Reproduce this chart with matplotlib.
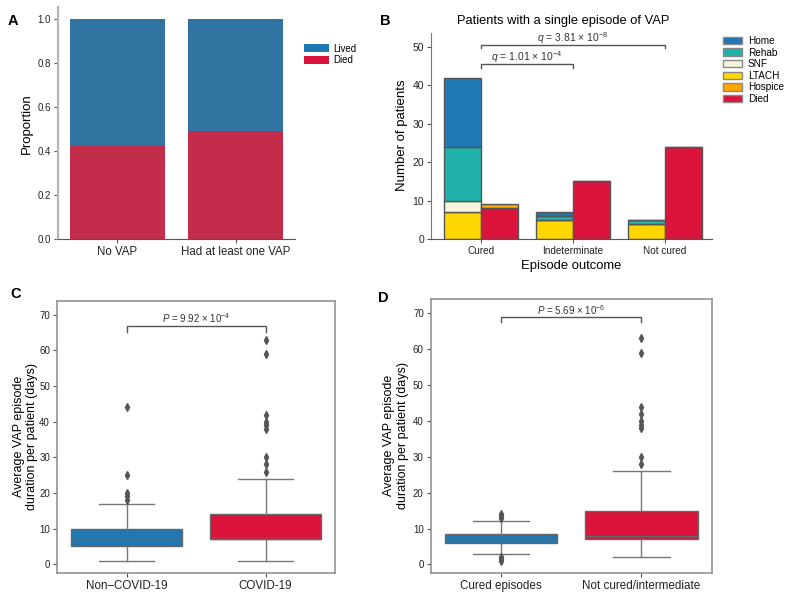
import colorsys
import matplotlib
matplotlib.use("Agg")
import matplotlib.pyplot as plt
from matplotlib.patches import Patch
from matplotlib.colors import to_rgb

plt.rcParams['font.family'] = ['Liberation Sans', 'DejaVu Sans']
plt.rcParams['mathtext.fontset'] = 'custom'
plt.rcParams['mathtext.rm'] = 'Liberation Sans'
plt.rcParams['mathtext.it'] = 'Liberation Sans:italic'

# ---- data ----
# A: proportion died per group
a_groups = ["No VAP", "Had at least one VAP"]
a_died = [0.424, 0.49]

# B: single-episode patients by outcome
b_outcomes = ["Cured", "Indeterminate", "Not cured"]
b_ltach = [7, 5, 4]
b_snf = [3, 0, 0]
b_rehab = [14, 1, 1]
b_home = [18, 1, 0]
b_died = [8, 15, 24]
b_hospice = [1, 0, 0]

# C: episode duration, non-COVID vs COVID (box stats)
c_groups = ["Non\u2013COVID-19", "COVID-19"]
c_q1 = [5, 7]
c_med = [7, 7]
c_q3 = [10, 14]
c_lo = [1, 1]
c_hi = [17, 24]
c_fliers = [[18, 19, 20, 25, 44], [26, 28, 30, 38, 39, 40, 42, 59, 63]]

# D: episode duration, cured vs not cured
d_groups = ["Cured episodes", "Not cured/intermediate"]
d_q1 = [6, 7]
d_med = [7, 8]
d_q3 = [8.5, 15]
d_lo = [3, 2]
d_hi = [12, 26]
d_fliers = [[1, 1.5, 2, 13, 13.5, 14], [28, 30, 38, 39, 40, 42, 44, 59, 63]]

BLUE = '#1f77b4'
RED = '#dc143c'
EDGE = '#555555'


def desat(c, s=0.75):
    h, l, sat = colorsys.rgb_to_hls(*to_rgb(c))
    return colorsys.hls_to_rgb(h, l, sat * s)


W, H = 793, 599
fig = plt.figure(figsize=(W / 100, H / 100), dpi=100)


def box(x0, y0, x1, y1):
    # pixel box -> figure fraction axes
    return fig.add_axes([x0 / W, 1 - y1 / H, (x1 - x0) / W, (y1 - y0) / H])


def bracket(ax, x0, x1, ylo, yhi, label, ytext, size=7):
    ax.plot([x0, x0, x1, x1], [ylo, yhi, yhi, ylo], color=EDGE, lw=1, clip_on=False)
    ax.text((x0 + x1) / 2, ytext, label, ha='center', va='center', fontsize=size, color='#333333')


# ---- A ----
axA = box(58, 7.3, 295, 239)
xa = range(len(a_groups))
lived = [1 - d for d in a_died]
axA.bar(xa, a_died, width=0.8, color=desat(RED))
axA.bar(xa, lived, bottom=a_died, width=0.8, color=desat(BLUE))
axA.set_xlim(-0.5, 1.5)
axA.set_ylim(0, 1.053)
axA.set_yticks([0, 0.2, 0.4, 0.6, 0.8, 1.0])
axA.set_yticklabels(['0.0', '0.2', '0.4', '0.6', '0.8', '1.0'], fontsize=7, color='#222222')
axA.set_xticks(list(xa))
axA.set_xticklabels(a_groups, fontsize=8.3, color='#222222')
axA.set_ylabel('Proportion', fontsize=9.5)
axA.yaxis.set_label_coords(-0.105, 0.5)
for s in ['top', 'right']:
    axA.spines[s].set_visible(False)
axA.spines['left'].set_color('#b5b5b5')
axA.spines['left'].set_linewidth(1.6)
axA.spines['bottom'].set_color('#555555')
axA.tick_params(length=3, width=0.8, color='#555555', pad=2)
fig.legend(handles=[Patch(facecolor=BLUE, label='Lived'), Patch(facecolor=RED, label='Died')],
           loc='upper left', bbox_to_anchor=(304 / W, 1 - 43.5 / H), frameon=False,
           fontsize=7, handlelength=2.6, handleheight=0.8, handletextpad=0.4,
           labelspacing=0.2, borderpad=0, borderaxespad=0)

# ---- B ----
axB = box(431, 32.7, 712, 239)
xb = list(range(len(b_outcomes)))
left = [x - 0.2 for x in xb]
right = [x + 0.2 for x in xb]
kw = dict(width=0.4, edgecolor=EDGE, linewidth=1)
bot = [0, 0, 0]
for vals, col in [(b_ltach, '#ffd700'), (b_snf, '#f5f5dc'), (b_rehab, '#20b2aa'), (b_home, BLUE)]:
    axB.bar(left, vals, bottom=bot, color=col, **kw)
    bot = [b + v for b, v in zip(bot, vals)]
axB.bar(right, b_died, color=RED, **kw)
axB.bar(right, b_hospice, bottom=b_died, color='#ffa500', **kw)
axB.set_xlim(-0.54, 2.51)
axB.set_ylim(0, 53.7)
axB.set_yticks([0, 10, 20, 30, 40, 50])
axB.tick_params(axis='y', labelsize=7.5, labelcolor='#222222')
axB.set_xticks(xb)
axB.set_xticklabels(b_outcomes, fontsize=7.2, color='#222222')
axB.tick_params(length=3, width=0.8, color='#555555', pad=2)
axB.set_xlabel('Episode outcome', fontsize=9.4, labelpad=3)
axB.set_ylabel('Number of patients', fontsize=9.5)
axB.yaxis.set_label_coords(-0.081, 0.505)
axB.set_title('Patients with a single episode of VAP', fontsize=9.3, x=0.47, pad=6)
for s in ['top', 'right']:
    axB.spines[s].set_visible(False)
axB.spines['left'].set_color('#777777')
axB.spines['bottom'].set_color('#555555')
bracket(axB, 0, 1, 44.6, 45.6, r'$q$ = 1.01 × 10$^{-4}$', 47.3, size=7.5)
bracket(axB, 0, 2, 49.6, 50.4, r'$q$ = 3.81 × 10$^{-8}$', 52.3, size=7.5)
legB = [('Home', BLUE), ('Rehab', '#20b2aa'), ('SNF', '#f5f5dc'),
        ('LTACH', '#ffd700'), ('Hospice', '#ffa500'), ('Died', RED)]
fig.legend(handles=[Patch(facecolor=c, edgecolor='#888888', label=l) for l, c in legB],
           loc='upper left', bbox_to_anchor=(723 / W, 1 - 36 / H), frameon=False,
           fontsize=7.2, handlelength=1.9, handleheight=0.75, handletextpad=0.6,
           labelspacing=0.16, borderpad=0, borderaxespad=0)


# ---- C and D ----
def draw_box(ax, groups, q1, med, q3, lo, hi, fliers):
    stats = []
    for i in range(len(groups)):
        stats.append(dict(q1=q1[i], med=med[i], q3=q3[i], whislo=lo[i], whishi=hi[i],
                          fliers=fliers[i]))
    lc = '#666666'
    bp = ax.bxp(stats, positions=[0, 1], widths=0.8, patch_artist=True,
                boxprops=dict(edgecolor=lc, linewidth=1),
                medianprops=dict(color=lc, linewidth=1),
                whiskerprops=dict(color='#777777', linewidth=1),
                capprops=dict(color='#777777', linewidth=1),
                flierprops=dict(marker='d', markerfacecolor='#555555',
                                markeredgecolor='#555555', markersize=4))
    for patch, col in zip(bp['boxes'], [BLUE, RED]):
        patch.set_facecolor(col)
    ax.set_xlim(-0.5, 1.5)
    ax.set_xticks([0, 1])
    ax.set_xticklabels(groups, fontsize=8.4, color='#222222')
    ax.set_yticks(range(0, 71, 10))
    ax.tick_params(axis='y', labelsize=7, labelcolor='#222222')
    ax.tick_params(length=3, width=0.8, color='#555555', pad=2)
    for s in ax.spines.values():
        s.set_color('#8c8c8c')
        s.set_linewidth(1.1)
    ax.set_ylabel('Average VAP episode\nduration per patient (days)', fontsize=9)


axC = box(57, 301, 335, 572.7)
draw_box(axC, c_groups, c_q1, c_med, c_q3, c_lo, c_hi, c_fliers)
axC.set_ylim(-2.4, 73.9)
axC.yaxis.set_label_coords(-0.067, 0.5)
bracket(axC, 0, 1, 65.3, 66.9, r'$P$ = 9.92 × 10$^{-4}$', 69.2)

axD = box(430.7, 299, 711.7, 572.7)
draw_box(axD, d_groups, d_q1, d_med, d_q3, d_lo, d_hi, d_fliers)
axD.set_ylim(-2.3, 74)
axD.yaxis.set_label_coords(-0.077, 0.5)
bracket(axD, 0, 1, 67.5, 68.9, r'$P$ = 5.69 × 10$^{-6}$', 70.9)

# panel letters
for letter, x, y in [('A', 8, 25), ('B', 380, 25), ('C', 10, 298), ('D', 378, 302)]:
    fig.text(x / W, 1 - y / H, letter, fontsize=10.5, fontweight='bold', va='baseline')

fig.savefig('out.png', dpi=100)
